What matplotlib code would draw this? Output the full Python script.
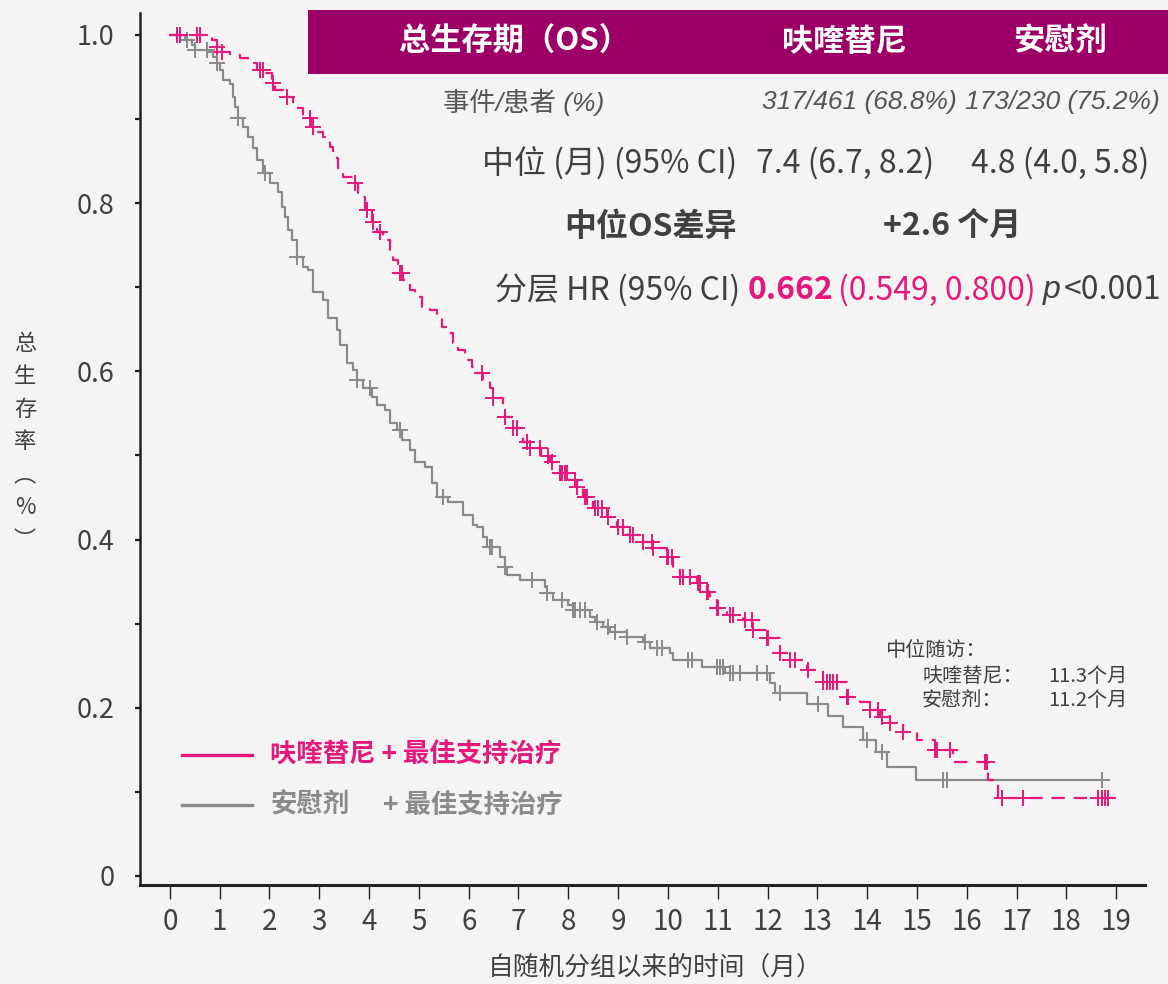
import matplotlib
matplotlib.use("Agg")
import matplotlib.pyplot as plt
from matplotlib.patches import Rectangle
from matplotlib.lines import Line2D
import numpy as np

plt.rcParams['font.family'] = ['Noto Sans CJK SC', 'DejaVu Sans']

# 呋喹替尼 KM 曲线 (月, 生存率)
fru_t = [0, 0.84, 0.94, 1.04, 1.2, 1.41, 1.57, 1.75, 1.91, 2.05, 2.11, 2.31, 2.47, 2.57,
         2.67, 2.85, 2.97, 3.07, 3.21, 3.27, 3.37, 3.47, 3.67, 3.78, 3.92, 4.06, 4.16, 4.28,
         4.42, 4.48, 4.58, 4.68, 4.82, 4.92, 5.06, 5.22, 5.36, 5.46, 5.58, 5.68, 5.78, 5.92,
         6.06, 6.16, 6.29, 6.43, 6.49, 6.69, 6.73, 6.89, 7.09, 7.23, 7.45, 7.63, 7.83, 8.03,
         8.17, 8.29, 8.49, 8.78, 8.98, 9.18, 9.50, 9.70, 9.98, 10.10, 10.24, 10.58, 10.78,
         10.84, 10.98, 11.18, 11.51, 11.71, 11.99, 12.25, 12.45, 12.79, 13.11, 13.59, 13.86,
         14.06, 14.26, 14.46, 14.72, 15.0, 15.36, 15.72, 16.43, 16.63, 18.88]
fru_s = [1.0, 0.994, 0.986, 0.980, 0.976, 0.973, 0.967, 0.958, 0.955, 0.943, 0.935, 0.926,
         0.920, 0.913, 0.901, 0.891, 0.885, 0.878, 0.867, 0.854, 0.842, 0.831, 0.824, 0.807,
         0.792, 0.778, 0.766, 0.756, 0.744, 0.732, 0.717, 0.709, 0.697, 0.688, 0.677, 0.673,
         0.665, 0.653, 0.646, 0.634, 0.625, 0.614, 0.605, 0.598, 0.590, 0.580, 0.568, 0.556,
         0.546, 0.533, 0.516, 0.509, 0.499, 0.492, 0.479, 0.471, 0.463, 0.451, 0.438, 0.427,
         0.415, 0.405, 0.397, 0.390, 0.379, 0.366, 0.356, 0.348, 0.338, 0.328, 0.319, 0.310,
         0.304, 0.293, 0.283, 0.265, 0.257, 0.245, 0.231, 0.213, 0.207, 0.197, 0.189, 0.182,
         0.171, 0.162, 0.150, 0.136, 0.114, 0.093, 0.093]
fru_cens = [0.14, 0.20, 0.54, 0.60, 0.94, 1.04, 1.81, 1.87, 2.07, 2.35, 2.81, 2.87, 3.71, 3.96,
            4.08, 4.22, 4.62, 4.66, 6.27, 6.49, 6.73, 6.89, 6.97, 7.17, 7.23, 7.43, 7.59, 7.67,
            7.83, 7.87, 7.93, 7.97, 8.13, 8.17, 8.33, 8.37, 8.53, 8.59, 8.67, 8.80, 9.00, 9.10,
            9.24, 9.30, 9.50, 9.68, 9.70, 9.98, 10.0, 10.08, 10.24, 10.30, 10.44, 10.60, 10.64,
            10.78, 10.80, 10.98, 11.0, 11.24, 11.31, 11.55, 11.69, 11.71, 11.99, 12.01, 12.25,
            12.45, 12.55, 12.81, 13.11, 13.19, 13.25, 13.31, 13.39, 13.59, 13.61, 14.06, 14.22,
            14.30, 14.46, 14.72, 15.36, 15.40, 15.66, 16.37, 16.41, 16.71, 17.13, 18.63, 18.71,
            18.78, 18.84]

# 安慰剂 KM 曲线
pbo_t = [0, 0.30, 0.44, 0.50, 0.76, 0.86, 0.94, 1.0, 1.06, 1.2, 1.27, 1.31, 1.37, 1.47, 1.57,
         1.67, 1.75, 1.87, 2.01, 2.17, 2.25, 2.31, 2.37, 2.45, 2.55, 2.67, 2.77, 2.87, 3.07,
         3.17, 3.35, 3.41, 3.55, 3.67, 3.76, 3.88, 4.06, 4.16, 4.32, 4.42, 4.56, 4.66, 4.82,
         4.92, 5.12, 5.26, 5.36, 5.58, 5.88, 6.08, 6.16, 6.29, 6.37, 6.63, 6.73, 6.77, 7.03,
         7.53, 7.57, 7.69, 7.99, 8.09, 8.43, 8.53, 8.69, 8.84, 9.18, 9.50, 9.64, 10.04, 10.10,
         10.68, 11.14, 12.05, 12.15, 12.79, 13.21, 13.51, 13.92, 14.18, 14.40, 14.98, 18.71]
pbo_s = [1.0, 0.994, 0.988, 0.982, 0.980, 0.974, 0.967, 0.958, 0.946, 0.941, 0.926, 0.914,
         0.901, 0.891, 0.879, 0.866, 0.851, 0.836, 0.824, 0.813, 0.795, 0.784, 0.768, 0.756,
         0.736, 0.724, 0.721, 0.694, 0.685, 0.663, 0.649, 0.631, 0.610, 0.602, 0.590, 0.580,
         0.570, 0.560, 0.554, 0.539, 0.530, 0.518, 0.507, 0.492, 0.486, 0.467, 0.451, 0.445,
         0.429, 0.417, 0.415, 0.403, 0.391, 0.379, 0.367, 0.358, 0.352, 0.344, 0.337, 0.328,
         0.322, 0.316, 0.308, 0.302, 0.296, 0.290, 0.284, 0.278, 0.271, 0.265, 0.257, 0.249,
         0.241, 0.229, 0.218, 0.205, 0.190, 0.177, 0.162, 0.147, 0.130, 0.114, 0.114]
pbo_cens = [0.34, 0.50, 0.74, 0.94, 1.37, 1.91, 2.55, 3.76, 4.02, 4.62, 5.48, 6.43, 6.47, 6.73,
            7.27, 7.57, 7.87, 8.09, 8.13, 8.23, 8.33, 8.57, 8.80, 8.94, 9.18, 9.54, 9.78, 9.88,
            10.40, 10.48, 10.98, 11.04, 11.10, 11.24, 11.31, 11.45, 11.79, 11.99, 12.25, 13.01,
            14.0, 14.30, 15.52, 15.60, 18.71]

x_ticks = list(range(0, 20))
y_ticks = [0, 0.2, 0.4, 0.6, 0.8, 1.0]
y_ticklabels = ['0', '0.2', '0.4', '0.6', '0.8', '1.0']

PINK = '#e5197b'
GRAY = '#8a8a8a'
BAND = '#9c0066'
TXT = '#404040'
BG = '#f4f4f4'

W, H = 1168, 984
fig = plt.figure(figsize=(W / 100, H / 100), dpi=100, facecolor=BG)


def px(x, y):
    # 像素坐标(左上为原点) -> figure 比例
    return x / W, 1 - y / H


ax = fig.add_axes([140 / W, 99 / H, 1005 / W, 872 / H])
ax.set_facecolor(BG)


def censor_y(t, s, tc):
    idx = np.searchsorted(t, tc, side='right') - 1
    return np.asarray(s)[idx]


ax.step(pbo_t, pbo_s, where='post', color=GRAY, lw=1.6, zorder=2)
ax.plot(pbo_cens, censor_y(pbo_t, pbo_s, pbo_cens), ls='none', marker='+', ms=11,
        mew=1.4, color=GRAY, zorder=2)
ax.step(fru_t, fru_s, where='post', color=PINK, lw=1.6, ls=(0, (6, 4)), zorder=3)
ax.plot(fru_cens, censor_y(fru_t, fru_s, fru_cens), ls='none', marker='+', ms=11,
        mew=1.4, color=PINK, zorder=3)

ax.set_xlim(-0.6, 19.58)
ax.set_ylim(-0.0107, 1.026)
ax.set_xticks(x_ticks)
ax.set_yticks(y_ticks)
ax.set_yticklabels(y_ticklabels)
ax.set_yticks([0.1, 0.3, 0.5, 0.7, 0.9], minor=True)
for side in ['top', 'right']:
    ax.spines[side].set_visible(False)
ax.spines['left'].set_linewidth(1.8)
ax.spines['bottom'].set_linewidth(2.2)
ax.spines['left'].set_color('#222222')
ax.spines['bottom'].set_color('#222222')
ax.tick_params(axis='x', length=10, width=1.0, color='#222222', labelsize=20,
               labelcolor=TXT, pad=6)
ax.tick_params(axis='y', which='both', length=3.5, width=1.6, color='#222222',
               labelsize=19.5, labelcolor=TXT, pad=15)

# 轴标题
fig.text(*px(655, 968), '自随机分组以来的时间（月）', ha='center', va='center',
         fontsize=18.5, color=TXT)
fig.text(*px(25, 442), '总\n生\n存\n率\n︵\n%\n︶', ha='center', va='center',
         fontsize=16, color=TXT, linespacing=1.55)

# 表头
fig.add_artist(Rectangle(px(308, 74), (W - 308) / W, 64 / H, transform=fig.transFigure,
                         facecolor=BAND, edgecolor='none', zorder=1))
fig.text(*px(515, 42), '总生存期（OS）', ha='center', va='center', fontsize=22.5,
         fontweight='bold', color='white')
fig.text(*px(845, 42), '呋喹替尼', ha='center', va='center', fontsize=22.5,
         fontweight='bold', color='white')
fig.text(*px(1060, 42), '安慰剂', ha='center', va='center', fontsize=22.5,
         fontweight='bold', color='white')

ital = ['Liberation Sans', 'Noto Sans CJK SC']
fig.text(*px(443, 102), '事件/患者 (%)', ha='left', va='center', fontsize=19,
         style='italic', family=ital, color='#555555')
fig.text(*px(957, 102), '317/461 (68.8%)', ha='right', va='center', fontsize=19,
         style='italic', family=ital, color='#555555')
fig.text(*px(1160, 102), '173/230 (75.2%)', ha='right', va='center', fontsize=19,
         style='italic', family=ital, color='#555555')

fig.text(*px(737, 163), '中位 (月) (95% CI)', ha='right', va='center', fontsize=23,
         color=TXT)
fig.text(*px(845, 163), '7.4 (6.7, 8.2)', ha='center', va='center', fontsize=23, color=TXT)
fig.text(*px(1060, 163), '4.8 (4.0, 5.8)', ha='center', va='center', fontsize=23, color=TXT)

fig.text(*px(737, 227), '中位OS差异', ha='right', va='center', fontsize=23,
         fontweight='bold', color=TXT)
fig.text(*px(952, 227), '+2.6 个月', ha='center', va='center', fontsize=23,
         fontweight='bold', color=TXT)

fig.text(*px(740, 290), '分层 HR (95% CI)', ha='right', va='center', fontsize=23, color=TXT)
fig.text(*px(748, 290), '0.662', ha='left', va='center', fontsize=23, fontweight='bold',
         color=PINK)
fig.text(*px(838, 290), '(0.549, 0.800)', ha='left', va='center', fontsize=23, color=PINK)
fig.text(*px(1043, 290), 'p', ha='left', va='center', fontsize=23, style='italic',
         family=ital, color=TXT)
fig.text(*px(1064, 290), '<0.001', ha='left', va='center', fontsize=23, color=TXT)

# 中位随访
fig.text(*px(885, 650), '中位随访：', ha='left', va='center', fontsize=14.5, color=TXT)
fig.text(*px(922, 676), '呋喹替尼：', ha='left', va='center', fontsize=14.5, color=TXT)
fig.text(*px(922, 701), '安慰剂：', ha='left', va='center', fontsize=14.5, color=TXT)
fig.text(*px(1048, 676), '11.3个月', ha='left', va='center', fontsize=14.5, color=TXT)
fig.text(*px(1048, 701), '11.2个月', ha='left', va='center', fontsize=14.5, color=TXT)

# 图例
fig.add_artist(Line2D([182 / W, 252 / W], [1 - 755 / H] * 2, color=PINK, lw=2.4))
fig.add_artist(Line2D([182 / W, 252 / W], [1 - 805 / H] * 2, color=GRAY, lw=2.4))
fig.text(*px(270, 755), '呋喹替尼 + 最佳支持治疗', ha='left', va='center', fontsize=19,
         fontweight='bold', color=PINK)
fig.text(*px(270, 805), '安慰剂', ha='left', va='center', fontsize=19,
         fontweight='bold', color=GRAY)
fig.text(*px(383, 805), '+ 最佳支持治疗', ha='left', va='center', fontsize=19,
         fontweight='bold', color=GRAY)

fig.savefig('out.png', dpi=100, facecolor=BG)
